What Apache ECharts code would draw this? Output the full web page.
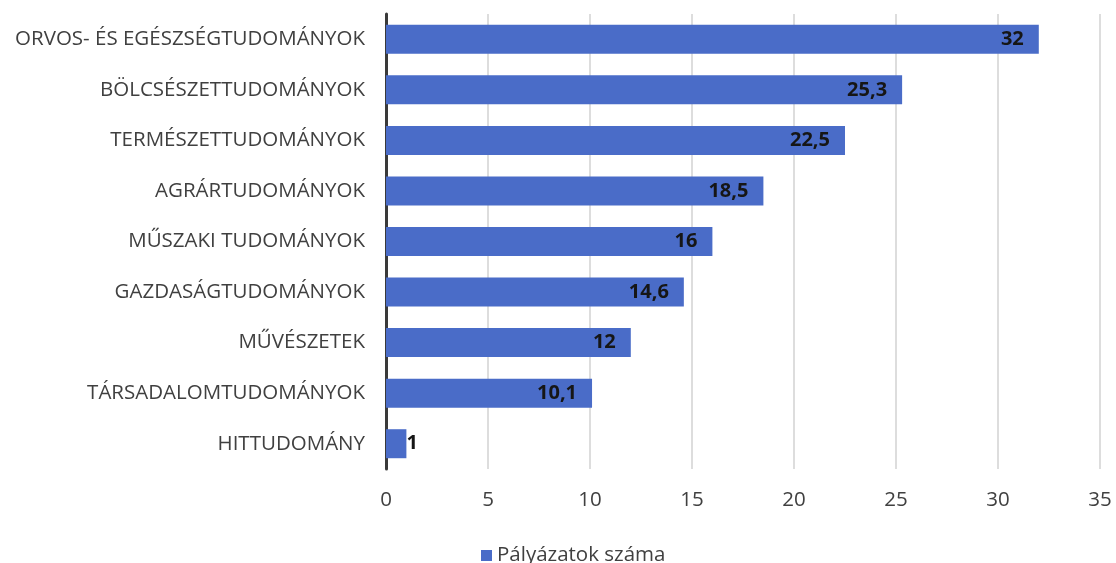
<!DOCTYPE html>
<html>
<head>
<meta charset="utf-8">
<script src="https://cdn.jsdelivr.net/npm/echarts@6/dist/echarts.min.js"></script>
<style>html,body{margin:0;padding:0;background:#fff}#c{width:1116px;height:563px}</style>
</head>
<body>
<div id="c"></div>
<script>
const categories = ["HITTUDOMÁNY","TÁRSADALOMTUDOMÁNYOK","MŰVÉSZETEK","GAZDASÁGTUDOMÁNYOK","MŰSZAKI TUDOMÁNYOK","AGRÁRTUDOMÁNYOK","TERMÉSZETTUDOMÁNYOK","BÖLCSÉSZETTUDOMÁNYOK","ORVOS- ÉS EGÉSZSÉGTUDOMÁNYOK"];
const values = [1, 10.1, 12, 14.6, 16, 18.5, 22.5, 25.3, 32];
const seriesName = "Pályázatok száma";
const xTicks = [0, 5, 10, 15, 20, 25, 30, 35];

const font = "'Open Sans', 'Noto Sans', sans-serif";
const chart = echarts.init(document.getElementById('c'));
chart.setOption({
  backgroundColor: '#fff',
  animation: false,
  grid: {left: 386, right: 16, top: 14, bottom: 94, containLabel: false},
  legend: {
    data: [seriesName], left: 476, top: 540, icon: 'rect', itemWidth: 11, itemHeight: 11, itemGap: 6,
    textStyle: {fontFamily: font, fontSize: 20.5, color: '#404040'}
  },
  xAxis: {
    type: 'value', min: xTicks[0], max: xTicks[xTicks.length-1], interval: 5,
    axisLine: {show: false}, axisTick: {show: false},
    splitLine: {show: true, lineStyle: {color: '#d2d2d2', width: 1.5}},
    axisLabel: {fontFamily: font, fontSize: 20.5, color: '#404040', margin: 21}
  },
  yAxis: {
    type: 'category', data: categories,
    axisLine: {show: true, lineStyle: {color: '#3a3a3a', width: 3}},
    axisTick: {show: false},
    axisLabel: {fontFamily: font, fontSize: 20.5, color: '#404040', margin: 21}
  },
  series: [{
    name: seriesName, type: 'bar', data: values.map((v, i) => i === 0 ? {value: v, label: {position: 'right', distance: 0}} : v),
    barWidth: 29,
    itemStyle: {color: '#4a6cc8'},
    label: {
      show: true, position: 'insideRight', distance: 15,
      fontFamily: font, fontWeight: 'bold', fontSize: 20, color: '#161616',
      formatter: p => String(p.value).replace('.', ',')
    }
  }]
});
</script>
</body>
</html>
